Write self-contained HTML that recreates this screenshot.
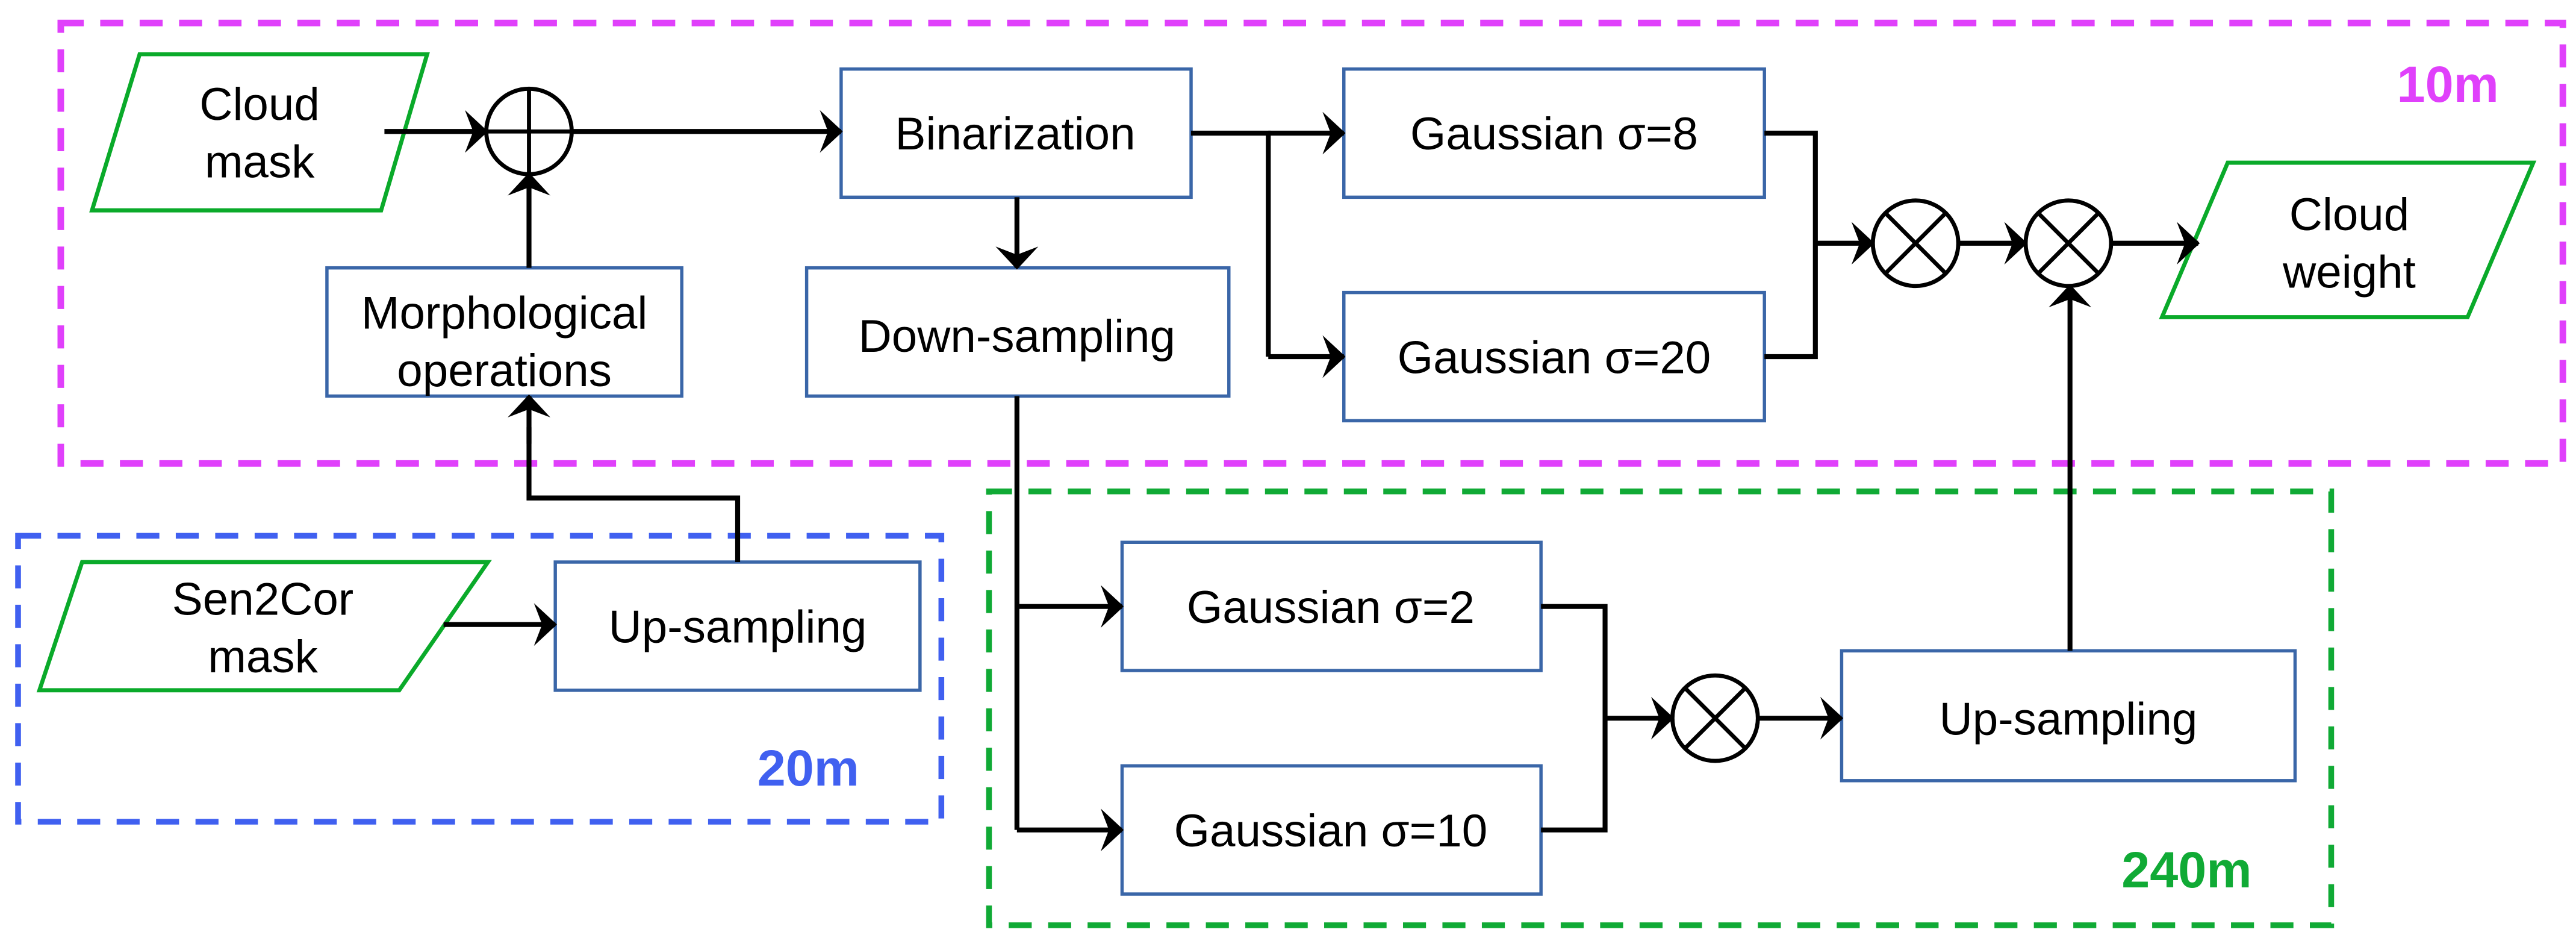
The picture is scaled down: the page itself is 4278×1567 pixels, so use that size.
<!DOCTYPE html>
<html><head><meta charset="utf-8"><style>html,body{margin:0;padding:0;background:#fff}svg{display:block}</style></head>
<body>
<svg width="4278" height="1567" viewBox="0 0 1568 574.4" preserveAspectRatio="none" xmlns="http://www.w3.org/2000/svg" font-family="Liberation Sans, sans-serif">
<defs>
<marker id="a" viewBox="0 0 14 26" refX="13" refY="13" markerWidth="14" markerHeight="26" markerUnits="userSpaceOnUse" orient="auto">
<path d="M0,0 L14,13 L0,26 L5,13 Z" fill="#000"/></marker>
</defs>
<rect x="37" y="14" width="1523" height="268" fill="none" stroke="#e040fb" stroke-width="4" stroke-dasharray="14,10"/>
<text x="1490" y="62" font-size="31" font-weight="bold" fill="#e040fb" text-anchor="middle">10m</text>
<rect x="11" y="326" width="562" height="174" fill="none" stroke="#4060f0" stroke-width="3.5" stroke-dasharray="14,10"/>
<text x="492" y="478" font-size="31" font-weight="bold" fill="#4060f0" text-anchor="middle">20m</text>
<rect x="602" y="299" width="817" height="264" fill="none" stroke="#10aa35" stroke-width="3.5" stroke-dasharray="14,10"/>
<text x="1331" y="540" font-size="31" font-weight="bold" fill="#10aa35" text-anchor="middle">240m</text>

<g fill="#fff" stroke="#0aaa2a" stroke-width="2.5">
<polygon points="85,33 260,33 232,128 56,128"/>
<polygon points="1356,99 1542,99 1502,193 1316,193"/>
<polygon points="50,342 297,342 243,420 24,420"/>
</g>
<g fill="#fff" stroke="#3a66a8" stroke-width="2">
<rect x="512" y="42" width="213" height="78"/>
<rect x="491" y="163" width="257" height="78"/>
<rect x="199" y="163" width="216" height="78"/>
<rect x="818" y="42" width="256" height="78"/>
<rect x="818" y="178" width="256" height="78"/>
<rect x="338" y="342" width="222" height="78"/>
<rect x="683" y="330" width="255" height="78"/>
<rect x="683" y="466" width="255" height="78"/>
<rect x="1121" y="396" width="276" height="79"/>
</g>
<g stroke="#000" stroke-width="2.5" fill="none">
<circle cx="322" cy="80" r="26"/>
<line x1="296" y1="80" x2="348" y2="80"/><line x1="322" y1="54" x2="322" y2="106"/>
<circle cx="1166" cy="148" r="26"/>
<line x1="1148" y1="130" x2="1184" y2="166"/><line x1="1184" y1="130" x2="1148" y2="166"/>
<circle cx="1259" cy="148" r="26"/>
<line x1="1241" y1="130" x2="1277" y2="166"/><line x1="1277" y1="130" x2="1241" y2="166"/>
<circle cx="1044" cy="437" r="26"/>
<line x1="1026" y1="419" x2="1062" y2="455"/><line x1="1062" y1="419" x2="1026" y2="455"/>
</g>
<g stroke="#000" stroke-width="3" fill="none">
<line x1="234" y1="80" x2="296" y2="80" marker-end="url(#a)"/>
<line x1="348" y1="80" x2="512" y2="80" marker-end="url(#a)"/>
<line x1="322" y1="163" x2="322" y2="106" marker-end="url(#a)"/>
<line x1="619" y1="120" x2="619" y2="163" marker-end="url(#a)"/>
<polyline points="725,81 772,81 772,217"/>
<line x1="772" y1="81" x2="818" y2="81" marker-end="url(#a)"/>
<line x1="772" y1="217" x2="818" y2="217" marker-end="url(#a)"/>
<polyline points="1074,81 1105,81 1105,217 1074,217"/>
<line x1="1105" y1="148" x2="1140" y2="148" marker-end="url(#a)"/>
<line x1="1192" y1="148" x2="1233" y2="148" marker-end="url(#a)"/>
<line x1="1285" y1="148" x2="1338" y2="148" marker-end="url(#a)"/>
<line x1="1260" y1="396" x2="1260" y2="174" marker-end="url(#a)"/>
<line x1="270" y1="380" x2="338" y2="380" marker-end="url(#a)"/>
<polyline points="449,342 449,303 322,303 322,260"/>
<line x1="322" y1="270" x2="322" y2="241" marker-end="url(#a)"/>
<polyline points="619,241 619,505"/>
<line x1="619" y1="369" x2="683" y2="369" marker-end="url(#a)"/>
<line x1="619" y1="505" x2="683" y2="505" marker-end="url(#a)"/>
<polyline points="938,369 977,369 977,505 938,505"/>
<line x1="977" y1="437" x2="1018" y2="437" marker-end="url(#a)"/>
<line x1="1070" y1="437" x2="1121" y2="437" marker-end="url(#a)"/>
</g>
<g font-size="28" fill="#000" text-anchor="middle">
<text x="158" y="73">Cloud</text><text x="158" y="108">mask</text>
<text x="1430" y="140">Cloud</text><text x="1430" y="175">weight</text>
<text x="160" y="374">Sen2Cor</text><text x="160" y="409">mask</text>
<text x="618" y="91">Binarization</text>
<text x="619" y="214">Down-sampling</text>
<text x="307" y="200">Morphological</text><text x="307" y="235">operations</text>
<text x="946" y="91">Gaussian σ=8</text>
<text x="946" y="227">Gaussian σ=20</text>
<text x="449" y="391">Up-sampling</text>
<text x="810" y="379">Gaussian σ=2</text>
<text x="810" y="515">Gaussian σ=10</text>
<text x="1259" y="447">Up-sampling</text>
</g>
</svg>
</body></html>
